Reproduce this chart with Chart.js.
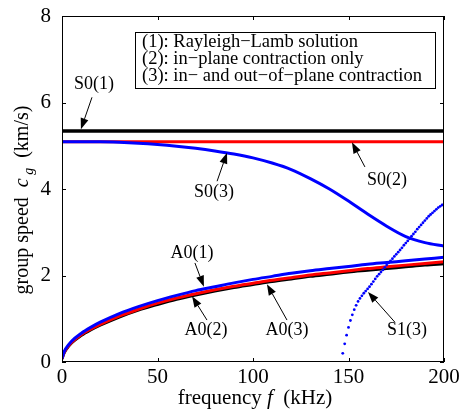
<!DOCTYPE html>
<html>
<head>
<meta charset="utf-8">
<script src="https://cdn.jsdelivr.net/npm/chart.js@4.4.0/dist/chart.umd.min.js"></script>
<style>
    html, body { margin: 0; padding: 0; background: #fff; }
</style>
</head>
<body>
<canvas id="groupSpeedChart" width="461" height="412"></canvas>
<script>
// values (f in kHz, c_g in km/s)
const freqEnds = [0, 200];
const s0Rayleigh = [5.34, 5.34];
const s0InPlane = [5.09, 5.09];

const freqS0 = [0, 10, 20, 30, 40, 50, 60, 70, 80, 90, 100, 110, 120, 130, 140, 150, 160, 170, 180, 190, 200];
const s0Full = [5.09, 5.09, 5.09, 5.08, 5.06, 5.03, 4.99, 4.94, 4.88, 4.81, 4.72, 4.60, 4.45, 4.24, 4.00, 3.72, 3.42, 3.14, 2.90, 2.76, 2.68];

const freqA0 = [0, 1, 2, 5, 10, 15, 20, 30, 40, 50, 60, 70, 80, 90, 100, 110, 120, 130, 140, 150, 160, 170, 180, 190, 200];
const a0Rayleigh = [0.07, 0.20, 0.28, 0.44, 0.61, 0.74, 0.85, 1.04, 1.20, 1.33, 1.45, 1.55, 1.64, 1.72, 1.79, 1.86, 1.92, 1.98, 2.03, 2.08, 2.12, 2.16, 2.20, 2.24, 2.27];
const a0InPlane = [0.08, 0.21, 0.29, 0.45, 0.63, 0.76, 0.87, 1.06, 1.22, 1.36, 1.48, 1.58, 1.67, 1.75, 1.82, 1.89, 1.95, 2.01, 2.06, 2.11, 2.16, 2.20, 2.24, 2.28, 2.32];
const a0Full = [0.08, 0.22, 0.31, 0.48, 0.66, 0.80, 0.92, 1.12, 1.28, 1.42, 1.54, 1.65, 1.74, 1.83, 1.91, 1.98, 2.05, 2.11, 2.16, 2.21, 2.26, 2.30, 2.34, 2.38, 2.42];

const freqS1 = [147, 148, 149, 150, 151, 152, 153, 154, 155, 156, 157, 158, 159, 160, 161, 162, 163, 164, 165, 166, 167, 168, 169, 170, 171, 172, 173,
    174, 175, 176, 177, 178, 179, 180, 181, 182, 183, 184, 185, 186, 187, 188, 189, 190, 191, 192, 193, 194, 195, 196, 197, 198, 199, 200];
const s1Full = [0.20, 0.42, 0.62, 0.80, 0.96, 1.09, 1.21, 1.31, 1.40, 1.47, 1.53, 1.59, 1.64, 1.69, 1.74, 1.80, 1.86, 1.92, 1.98, 2.03, 2.08, 2.13, 2.19,
    2.24, 2.29, 2.34, 2.39, 2.44, 2.49, 2.54, 2.59, 2.64, 2.70, 2.75, 2.80, 2.85, 2.91, 2.96, 3.01, 3.07, 3.12, 3.17, 3.22, 3.27, 3.32, 3.37, 3.41,
    3.45, 3.49, 3.53, 3.57, 3.60, 3.63, 3.65];

const xTicks = [0, 50, 100, 150, 200];
const yTicks = [0, 2, 4, 6, 8];

const legendLines = [
    '(1): Rayleigh\u2212Lamb solution',
    '(2): in\u2212plane contraction only',
    '(3): in\u2212 and out\u2212of\u2212plane contraction'
];

// label text, label pos, arrow tail, arrow tip (data units)
const callouts = [
    { text: 'S0(1)', at: [16.8, 6.43], from: [15.7, 6.12], to: [9.9, 5.38] },
    { text: 'S0(3)', at: [79.6, 3.93], from: [81.2, 4.18], to: [86.4, 4.84] },
    { text: 'S0(2)', at: [170.2, 4.21], from: [158.6, 4.51], to: [151.8, 5.08] },
    { text: 'A0(1)', at: [68.1, 2.52], from: [69.6, 2.29], to: [74.3, 1.74] },
    { text: 'A0(2)', at: [75.4, 0.74], from: [75.9, 0.97], to: [68.1, 1.52] },
    { text: 'A0(3)', at: [117.8, 0.74], from: [117.8, 0.97], to: [107.3, 1.80] },
    { text: 'S1(3)', at: [180.6, 0.74], from: [174.3, 0.92], to: [160.2, 1.62] }
];

const SERIF = '"Liberation Serif", "DejaVu Serif", serif';

function pts(xs, ys) {
    return xs.map((x, i) => ({ x: x, y: ys[i] }));
}

function lineSet(label, xs, ys, color, width) {
    return {
        label: label,
        data: pts(xs, ys),
        borderColor: color,
        backgroundColor: color,
        borderWidth: width,
        pointRadius: 0,
        showLine: true,
        cubicInterpolationMode: 'monotone'
    };
}

function drawArrow(ctx, x1, y1, x2, y2) {
    const ang = Math.atan2(y2 - y1, x2 - x1);
    const len = 11, half = 4;
    const bx = x2 - len * Math.cos(ang), by = y2 - len * Math.sin(ang);
    ctx.beginPath();
    ctx.moveTo(x1, y1);
    ctx.lineTo(bx, by);
    ctx.stroke();
    ctx.beginPath();
    ctx.moveTo(x2, y2);
    ctx.lineTo(bx + half * Math.sin(ang), by - half * Math.cos(ang));
    ctx.lineTo(bx - half * Math.sin(ang), by + half * Math.cos(ang));
    ctx.closePath();
    ctx.fill();
}

// draws several font runs one after another, centred on (cx, cy)
function drawRuns(ctx, runs, cx, cy) {
    let total = 0;
    runs.forEach(r => { ctx.font = r.font; r.w = ctx.measureText(r.text).width; total += r.w; });
    let x = cx - total / 2;
    ctx.textAlign = 'left';
    ctx.textBaseline = 'alphabetic';
    runs.forEach(r => {
        ctx.font = r.font;
        ctx.fillText(r.text, x, cy + (r.dy || 0));
        x += r.w;
    });
}

const decorPlugin = {
    id: 'decor',
    afterDatasetsDraw(chart) {
        const ctx = chart.ctx;
        const ca = chart.chartArea;
        const xs = chart.scales.x, ys = chart.scales.y;
        ctx.save();
        ctx.strokeStyle = '#000';
        ctx.fillStyle = '#000';

        // box and inward ticks
        ctx.lineWidth = 1;
        ctx.strokeRect(ca.left + 0.5, ca.top + 0.5, ca.right - ca.left - 1, ca.bottom - ca.top - 1);
        ctx.beginPath();
        xTicks.forEach(v => {
            const px = Math.round(xs.getPixelForValue(v)) + 0.5;
            ctx.moveTo(px, ca.bottom); ctx.lineTo(px, ca.bottom - 4);
            ctx.moveTo(px, ca.top); ctx.lineTo(px, ca.top + 4);
        });
        yTicks.forEach(v => {
            const py = Math.round(ys.getPixelForValue(v)) + 0.5;
            ctx.moveTo(ca.left, py); ctx.lineTo(ca.left + 4, py);
            ctx.moveTo(ca.right, py); ctx.lineTo(ca.right - 4, py);
        });
        ctx.stroke();

        // legend box
        const lx = ca.left + 73, ly = ca.top + 16;
        ctx.fillStyle = '#fff';
        ctx.fillRect(lx, ly, 300, 56);
        ctx.strokeRect(lx + 0.5, ly + 0.5, 300, 56);
        ctx.fillStyle = '#000';
        ctx.font = '18.5px ' + SERIF;
        ctx.textAlign = 'left';
        ctx.textBaseline = 'middle';
        legendLines.forEach((t, i) => ctx.fillText(t, lx + 7, ly + 10 + i * 17));

        // callouts
        ctx.lineWidth = 1;
        ctx.font = '18px ' + SERIF;
        callouts.forEach(c => {
            ctx.textAlign = 'center';
            ctx.textBaseline = 'middle';
            ctx.fillText(c.text, xs.getPixelForValue(c.at[0]), ys.getPixelForValue(c.at[1]));
            drawArrow(ctx,
                xs.getPixelForValue(c.from[0]), ys.getPixelForValue(c.from[1]),
                xs.getPixelForValue(c.to[0]), ys.getPixelForValue(c.to[1]));
        });

        // axis titles
        drawRuns(ctx, [
            { text: 'frequency ', font: '21px ' + SERIF },
            { text: 'f', font: 'italic 21px ' + SERIF },
            { text: '  (kHz)', font: '21px ' + SERIF }
        ], (ca.left + ca.right) / 2 + 2, 404);

        ctx.translate(28, (ca.top + ca.bottom) / 2 + 11);
        ctx.rotate(-Math.PI / 2);
        drawRuns(ctx, [
            { text: 'group speed  ', font: '20px ' + SERIF },
            { text: 'c', font: 'italic 20px ' + SERIF },
            { text: ' g', font: 'italic 14px ' + SERIF, dy: 5 },
            { text: '  (km/s)', font: '20px ' + SERIF }
        ], 0, 0);
        ctx.restore();
    }
};

const ctx = document.getElementById('groupSpeedChart').getContext('2d');
const s1Set = {
    label: 'S1(3)',
    data: pts(freqS1, s1Full),
    borderColor: '#0000ff',
    backgroundColor: '#0000ff',
    pointRadius: 1.4,
    pointBorderWidth: 0,
    showLine: false
};

new Chart(ctx, {
    type: 'scatter',
    data: {
        // first dataset ends up on top
        datasets: [
            s1Set,
            lineSet('A0(3)', freqA0, a0Full, '#0000ff', 3),
            lineSet('A0(2)', freqA0, a0InPlane, '#ff0000', 3),
            lineSet('A0(1)', freqA0, a0Rayleigh, '#000000', 3),
            lineSet('S0(3)', freqS0, s0Full, '#0000ff', 3),
            lineSet('S0(2)', freqEnds, s0InPlane, '#ff0000', 3),
            lineSet('S0(1)', freqEnds, s0Rayleigh, '#000000', 3.5)
        ]
    },
    options: {
        responsive: false,
        animation: false,
        layout: { padding: { left: 0, top: 16, right: 17, bottom: 0 } },
        plugins: {
            legend: { display: false },
            tooltip: { enabled: false }
        },
        scales: {
            x: {
                type: 'linear',
                min: 0,
                max: 200,
                afterFit: s => { s.height = 50; s.paddingLeft = 0; s.paddingRight = 0; },
                afterBuildTicks: s => { s.ticks = xTicks.map(v => ({ value: v })); },
                grid: { display: false, drawTicks: false },
                border: { display: false },
                ticks: { color: '#000', padding: 3, maxRotation: 0, font: { family: SERIF, size: 21 } }
            },
            y: {
                type: 'linear',
                min: 0,
                max: 8,
                afterFit: s => { s.width = 62; s.paddingTop = 0; s.paddingBottom = 0; },
                afterBuildTicks: s => { s.ticks = yTicks.map(v => ({ value: v })); },
                grid: { display: false, drawTicks: false },
                border: { display: false },
                ticks: { color: '#000', padding: 11, font: { family: SERIF, size: 21 } }
            }
        }
    },
    plugins: [decorPlugin]
});
</script>
</body>
</html>
